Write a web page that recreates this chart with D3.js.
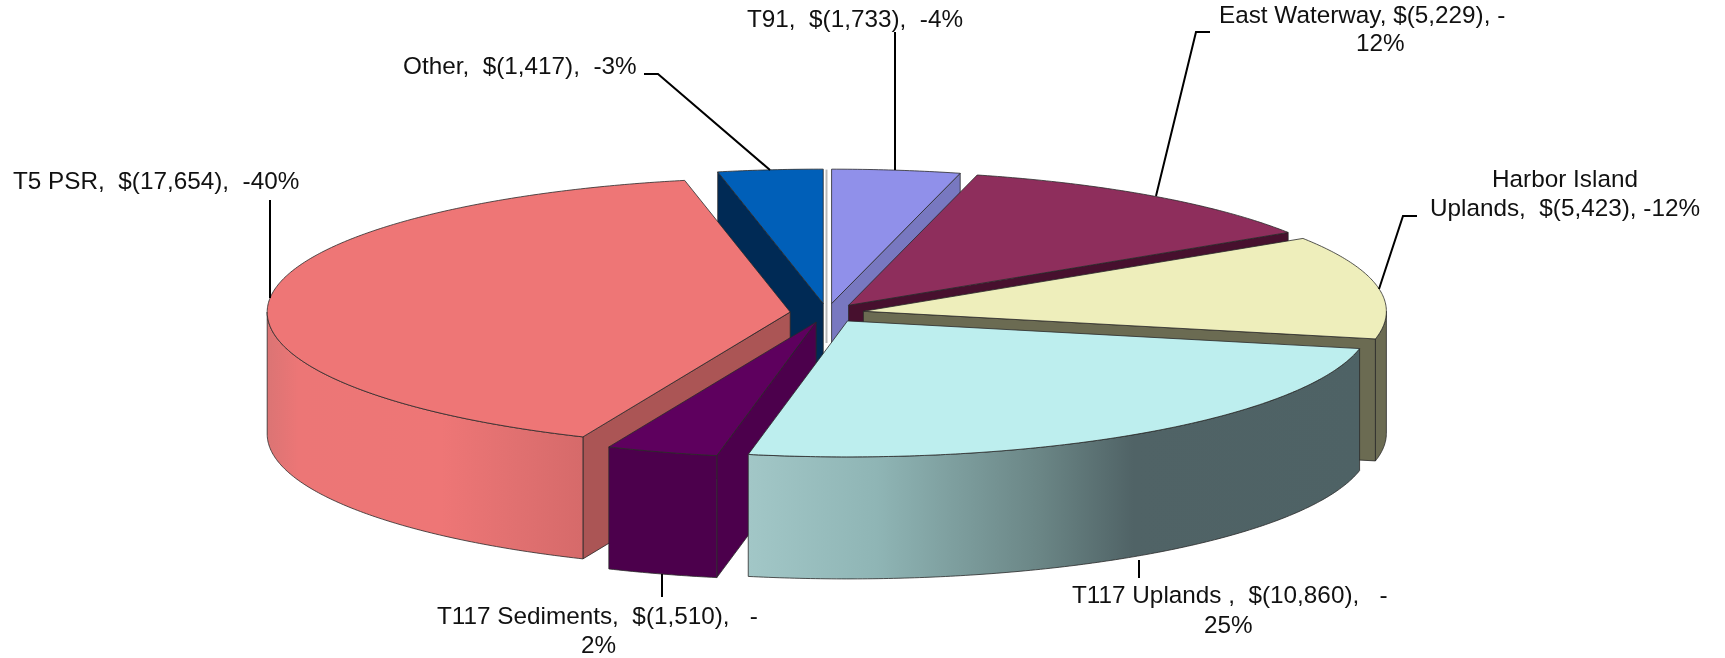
<!DOCTYPE html>
<html>
<head>
<meta charset="utf-8">
<script src="https://cdn.jsdelivr.net/npm/d3@7"></script>
<style>
    html, body { margin: 0; padding: 0; background: #fff; }
    svg { display: block; filter: blur(0.45px); }
    text { font-family: "Liberation Sans", Arial, sans-serif; font-size: 24.3px; fill: #111; white-space: pre; }
</style>
</head>
<body>
<svg id="chart" width="1725" height="658"></svg>
<script>
/**
 * Chart data, clockwise from 12 o'clock
 */
var names = ["T91", "East Waterway", "Harbor Island Uplands", "T117 Uplands", "T117 Sediments", "T5 PSR", "Other"];
var costs = [1733, 5229, 5423, 10860, 1510, 17654, 1417];
var labelLines = [
    ["T91,  $(1,733),  -4%"],
    ["East Waterway, $(5,229), -", "12%"],
    ["Harbor Island", "Uplands,  $(5,423), -12%"],
    ["T117 Uplands ,  $(10,860),   -", "25%"],
    ["T117 Sediments,  $(1,510),   -", "2%"],
    ["T5 PSR,  $(17,654),  -40%"],
    ["Other,  $(1,417),  -3%"]
];
var topColors = ["#9090ea", "#8e2e5c", "#eeeebb", "#bdeeee", "#5e005e", "#ee7676", "#005fb8"];
var wallColors = ["#7878c0", "#47102e", "#6b6b52", "#506466", "#4c004c", "#ab5555", "#002a55"];
var rimStops = [
    [[0, "#7878c0"]],
    [[0, "#47102e"]],
    [[0, "#6b6b52"]],
    [[0, "#a2c7c7"], [0.21, "#8fb5b5"], [0.48, "#6a8585"], [0.63, "#506366"], [1, "#4e6265"]],
    [[0, "#4c004c"]],
    [[0, "#db7474"], [0.1, "#ec7676"], [0.55, "#ee7676"], [0.8, "#e07070"], [1, "#d66a6a"]],
    [[0, "#002a55"]]
];

// pie geometry
var cx = 827, cy = 313, rx = 523, tiltBack = 0.257, tiltFront = 0.26, depth = 122, explode = 37;

// the back-to-front order the slices were painted in
var paintOrder = [0, 6, 1, 2, 5, 4, 3];

// label anchors and leader lines, per slice
var labelPos = [
    { x: 855, y: 27, anchor: "middle", dy: 0, leader: [[895, 32], [895, 170]] },
    { x: 1219, y: 23, anchor: "start", dy: 28, dx2: 137, leader: [[1210, 32], [1196, 32], [1156, 196]] },
    { x: 1565, y: 187, anchor: "middle", dy: 29, leader: [[1417, 216], [1403, 216], [1379, 289]] },
    { x: 1072, y: 603, anchor: "start", dy: 30, dx2: 132, leader: [[1139, 560], [1139, 578]] },
    { x: 437, y: 624, anchor: "start", dy: 29, dx2: 144, leader: [[662, 574], [662, 597]] },
    { x: 13, y: 189, anchor: "start", dy: 0, leader: [[270, 200], [270, 298]] },
    { x: 403, y: 74, anchor: "start", dy: 0, leader: [[644, 74], [658, 74], [770, 170]] }
];

window.onload = function(){
    drawPie();
    drawLabels();
};

/**
 * Screen position of a point on the pie, for a slice offset at a pie angle
 */
function project(slice, angle, radius, drop){
    let mid = (slice.startAngle + slice.endAngle) / 2;
    let ox = explode * Math.sin(mid),
        oy = -explode * tiltBack * Math.cos(mid);
    let tilt = Math.cos(angle) < 0 ? tiltFront : tiltBack;
    return [cx + ox + radius * Math.sin(angle),
            cy + oy - radius * tilt * Math.cos(angle) + drop];
}

function arcPoints(slice, a0, a1, drop){
    let n = Math.max(2, Math.ceil((a1 - a0) / 0.01));
    let angle = d3.scaleLinear().domain([0, n]).range([a0, a1]);
    return d3.range(n + 1).map(function(i){
        return project(slice, angle(i), rx, drop);
    });
}

function drawPie(){
    let svg = d3.select("#chart");
    let pie = d3.pie().sort(null).startAngle(0).endAngle(2 * Math.PI);
    let slices = pie(costs);
    let line = d3.line();
    let defs = svg.append("defs");

    // faint seam left in the gap at 12 o'clock
    svg.append("line")
        .attr("x1", cx - 0.5).attr("x2", cx - 0.5)
        .attr("y1", cy - rx * tiltBack - 9)
        .attr("y2", cy + 30)
        .attr("stroke", "#b8b8b8")
        .attr("stroke-width", 2);

    let groups = svg.selectAll("g.slice")
        .data(paintOrder)
        .enter()
        .append("g")
        .attr("class", "slice")
        .attr("stroke", "#2a2a2a")
        .attr("stroke-width", 0.8)
        .attr("stroke-linejoin", "round");

    groups.each(function(i){
        let g = d3.select(this);
        let s = slices[i];
        let apexTop = project(s, 0, 0, 0),
            apexBottom = project(s, 0, 0, depth);

        // radial walls: drawn only if they face the viewer
        [[s.startAngle, -1], [s.endAngle, 1]].forEach(function(w){
            let normalY = w[1] * Math.sin(w[0]);
            if (normalY <= 1e-6) return;
            let edgeTop = project(s, w[0], rx, 0),
                edgeBottom = project(s, w[0], rx, depth);
            g.append("path")
                .attr("d", line([apexTop, edgeTop, edgeBottom, apexBottom]) + "Z")
                .attr("fill", wallColors[i]);
        });

        // outer rim on the front half of the pie
        let a0 = Math.max(s.startAngle, Math.PI / 2),
            a1 = Math.min(s.endAngle, 3 * Math.PI / 2);
        if (a1 > a0) {
            let top = arcPoints(s, a0, a1, 0),
                bottom = arcPoints(s, a0, a1, depth).reverse();
            let xs = top.map(function(p){ return p[0]; });
            let grad = defs.append("linearGradient")
                .attr("id", "rim" + i)
                .attr("gradientUnits", "userSpaceOnUse")
                .attr("x1", d3.min(xs)).attr("x2", d3.max(xs))
                .attr("y1", 0).attr("y2", 0);
            // stops are listed left to right
            grad.selectAll("stop")
                .data(rimStops[i])
                .enter()
                .append("stop")
                .attr("offset", function(d){ return d[0]; })
                .attr("stop-color", function(d){ return d[1]; });
            g.append("path")
                .attr("d", line(top.concat(bottom)) + "Z")
                .attr("fill", "url(#rim" + i + ")");
        }

        // top face
        let rimTop = arcPoints(s, s.startAngle, s.endAngle, 0);
        g.append("path")
            .attr("d", line([apexTop].concat(rimTop)) + "Z")
            .attr("fill", topColors[i]);
    });
}

function drawLabels(){
    let svg = d3.select("#chart");
    let line = d3.line();

    svg.selectAll("path.leader")
        .data(labelPos)
        .enter()
        .append("path")
        .attr("class", "leader")
        .attr("d", function(d){ return line(d.leader); })
        .attr("fill", "none")
        .attr("stroke", "#000")
        .attr("stroke-width", 2);

    let labels = svg.selectAll("text.label")
        .data(labelLines)
        .enter()
        .append("text")
        .attr("class", "label")
        .attr("text-anchor", function(d, i){ return labelPos[i].anchor; });

    labels.each(function(lines, i){
        let pos = labelPos[i];
        d3.select(this).selectAll("tspan")
            .data(lines)
            .enter()
            .append("tspan")
            .attr("x", function(d, j){ return pos.x + (j && pos.dx2 ? pos.dx2 : 0); })
            .attr("y", function(d, j){ return pos.y + j * pos.dy; })
            .text(function(d){ return d; });
    });
}
</script>
</body>
</html>
